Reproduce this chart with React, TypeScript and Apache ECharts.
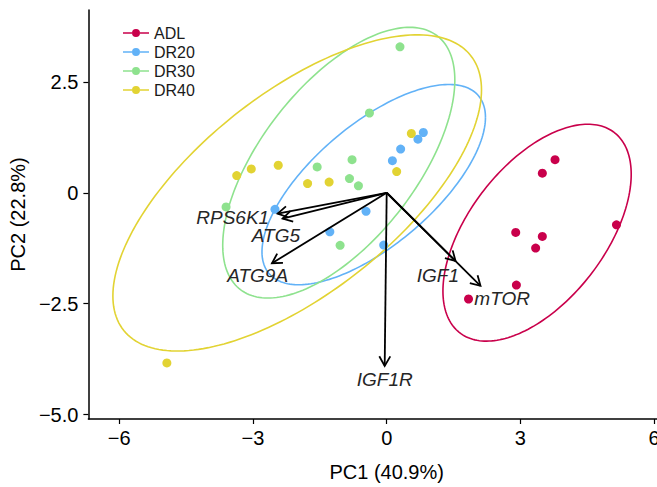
import React, { useEffect, useRef } from "react";
import * as echarts from "echarts";

const FONT = "'Liberation Sans', Arial, Helvetica, sans-serif";

const groups = ["ADL", "DR20", "DR30", "DR40"];
const groupColors = ["#C9004B", "#62B2F7", "#8EE28E", "#E2D333"];

const adlPoints = [
  [3.777, 0.745], [3.492, 0.441], [2.895, -0.895], [3.492, -0.985],
  [3.342, -1.247], [2.91, -2.082], [1.836, -2.395], [5.156, -0.723],
];
const dr20Points = [
  [-2.507, -0.374], [-0.463, -0.419], [-1.276, -0.88], [-0.067, -1.18],
  [0.128, 0.723], [0.313, 0.985], [0.701, 1.209], [0.822, 1.359],
];
const dr30Points = [
  [0.298, 3.291], [-0.387, 1.798], [-0.777, 0.745], [-1.56, 0.582],
  [-0.835, 0.32], [-0.634, 0.157], [-1.045, -1.186], [-3.604, -0.32],
];
const dr40Points = [
  [-3.365, 0.387], [-3.038, 0.537], [-2.433, 0.62], [-1.775, 0.208],
  [-1.292, 0.24], [0.224, 0.477], [0.553, 1.336], [-4.932, -3.835],
];
const groupPoints = [adlPoints, dr20Points, dr30Points, dr40Points];

// ellipse centre and covariance-like shape [s11, s12, s22] per group
const ellipseCenters = [[3.374, -0.9], [-0.291, 0.184], [-1.075, 0.678], [-2.008, -0.004]];
const ellipseShapes = [[4.461, 2.78, 5.977], [6.286, 3.8, 5.093], [6.78, 4.85, 9.31], [17.1, 9.6, 12.7]];

const loadingNames = ["RPS6K1", "ATG5", "ATG9A", "IGF1", "mTOR", "IGF1R"];
const loadingVectors = [
  [-2.447, -0.47], [-2.335, -0.582], [-2.574, -1.589],
  [1.545, -1.538], [2.104, -2.098], [-0.045, -3.902],
];
const loadingLabelPos = [
  [-3.454, -0.566], [-2.485, -0.956], [-2.895, -1.874],
  [1.148, -1.865], [2.59, -2.373], [-0.045, -4.202],
];

const xTicks = [-6, -3, 0, 3, 6];
const xTickLabels = ["\u22126", "\u22123", "0", "3", "6"];
const yTicks = [-5, -2.5, 0, 2.5];
const yTickLabels = ["\u22125.0", "\u22122.5", "0", "2.5"];

const legendIcon =
  "path://M0,4.2 L9,4.2 L9,5.8 L0,5.8 Z M17,4.2 L26,4.2 L26,5.8 L17,5.8 Z M9,5 A4,4 0 1,1 17,5 A4,4 0 1,1 9,5 Z";

export default function App() {
  const ref = useRef<HTMLDivElement>(null);
  useEffect(() => {
    document.body.style.margin = "0";
    document.body.style.overflow = "hidden";
    if (!ref.current) return;
    const chart = echarts.init(ref.current, undefined, { renderer: "svg" });

    const ellipseSeries = groups.map((g, gi) => ({
      type: "custom",
      name: g + " ellipse",
      coordinateSystem: "cartesian2d",
      clip: false,
      z: 1,
      silent: true,
      data: [[ellipseCenters[gi][0], ellipseCenters[gi][1], ...ellipseShapes[gi]]],
      encode: { x: 0, y: 1 },
      renderItem: (params: any, api: any) => {
        const cx = api.value(0), cy = api.value(1);
        const s11 = api.value(2), s12 = api.value(3), s22 = api.value(4);
        const l11 = Math.sqrt(s11);
        const l21 = s12 / l11;
        const l22 = Math.sqrt(Math.max(s22 - l21 * l21, 0));
        const pts: number[][] = [];
        for (let i = 0; i <= 200; i++) {
          const t = (i / 200) * Math.PI * 2;
          const c = Math.cos(t), s = Math.sin(t);
          pts.push(api.coord([cx + l11 * c, cy + l21 * c + l22 * s]));
        }
        return {
          type: "polyline",
          shape: { points: pts },
          style: { fill: "none", stroke: groupColors[gi], lineWidth: 1.6 },
        };
      },
    }));

    const scatterSeries = groups.map((g, gi) => ({
      type: "scatter",
      name: g,
      z: 3,
      symbol: "circle",
      symbolSize: 9,
      itemStyle: { color: groupColors[gi], opacity: 1 },
      data: groupPoints[gi],
      silent: true,
    }));

    const arrowSeries = {
      type: "custom",
      name: "loadings",
      coordinateSystem: "cartesian2d",
      clip: false,
      z: 5,
      silent: true,
      data: loadingVectors,
      encode: { x: 0, y: 1 },
      renderItem: (params: any, api: any) => {
        const o = api.coord([0, 0]);
        const e = api.coord([api.value(0), api.value(1)]);
        const ang = Math.atan2(e[1] - o[1], e[0] - o[0]);
        const L = 11, A = Math.PI / 6;
        const p1 = [e[0] - L * Math.cos(ang - A), e[1] - L * Math.sin(ang - A)];
        const p2 = [e[0] - L * Math.cos(ang + A), e[1] - L * Math.sin(ang + A)];
        return {
          type: "group",
          children: [
            { type: "line", shape: { x1: o[0], y1: o[1], x2: e[0], y2: e[1] }, style: { stroke: "#000", lineWidth: 1.8 } },
            { type: "polyline", shape: { points: [p1, e, p2] }, style: { stroke: "#000", fill: "none", lineWidth: 1.8 } },
          ],
        };
      },
    };

    const labelSeries = {
      type: "custom",
      name: "loading labels",
      coordinateSystem: "cartesian2d",
      clip: false,
      z: 6,
      silent: true,
      data: loadingLabelPos,
      encode: { x: 0, y: 1 },
      renderItem: (params: any, api: any) => {
        const p = api.coord([api.value(0), api.value(1)]);
        return {
          type: "text",
          x: p[0],
          y: p[1],
          style: {
            text: loadingNames[params.dataIndex],
            fontSize: 19,
            fontStyle: "italic",
            fontFamily: FONT,
            fill: "#262626",
            align: "center",
            verticalAlign: "middle",
          },
        };
      },
    };

    chart.setOption({
      animation: false,
      backgroundColor: "#fff",
      textStyle: { fontFamily: FONT },
      grid: { left: 87, top: 10, right: 0, bottom: 65.3, containLabel: false },
      legend: {
        orient: "vertical",
        left: 123,
        top: 25,
        padding: 0,
        itemGap: 3,
        itemWidth: 26,
        itemHeight: 8,
        selectedMode: false,
        data: groups.map((g) => ({ name: g, icon: legendIcon })),
        textStyle: { fontSize: 16, color: "#1a1a1a", fontFamily: FONT, lineHeight: 16 },
      },
      xAxis: {
        type: "value",
        min: -6.693,
        max: 6.693,
        name: "PC1 (40.9%)",
        nameLocation: "middle",
        nameGap: 43,
        nameTextStyle: { fontSize: 20, color: "#000", fontFamily: FONT },
        splitLine: { show: false },
        axisLine: { show: true, onZero: false, lineStyle: { color: "#000", width: 1.5 } },
        axisTick: { show: true, length: 5, customValues: xTicks, lineStyle: { color: "#000", width: 1.2 } },
        axisLabel: {
          customValues: xTicks,
          margin: 9,
          fontSize: 20,
          color: "#000",
          fontFamily: FONT,
          formatter: (v: number) => {
            const i = xTicks.findIndex((t) => Math.abs(t - v) < 1e-6);
            return i >= 0 ? xTickLabels[i] : "";
          },
        },
      },
      yAxis: {
        type: "value",
        min: -5.1,
        max: 4.12,
        name: "PC2 (22.8%)",
        nameLocation: "middle",
        nameGap: 54,
        nameTextStyle: { fontSize: 20, color: "#000", fontFamily: FONT },
        splitLine: { show: false },
        axisLine: { show: true, onZero: false, lineStyle: { color: "#000", width: 1.5 } },
        axisTick: { show: true, length: 5, customValues: yTicks, lineStyle: { color: "#000", width: 1.2 } },
        axisLabel: {
          customValues: yTicks,
          margin: 10,
          fontSize: 20,
          color: "#000",
          fontFamily: FONT,
          formatter: (v: number) => {
            const i = yTicks.findIndex((t) => Math.abs(t - v) < 1e-6);
            return i >= 0 ? yTickLabels[i] : "";
          },
        },
      },
      series: [...ellipseSeries, ...scatterSeries, arrowSeries, labelSeries],
    });
    return () => chart.dispose();
  }, []);
  return (
    <div style={{ width: 657, height: 487, overflow: "hidden", position: "relative" }}>
      <div ref={ref} style={{ width: 685, height: 487 }} />
    </div>
  );
}
